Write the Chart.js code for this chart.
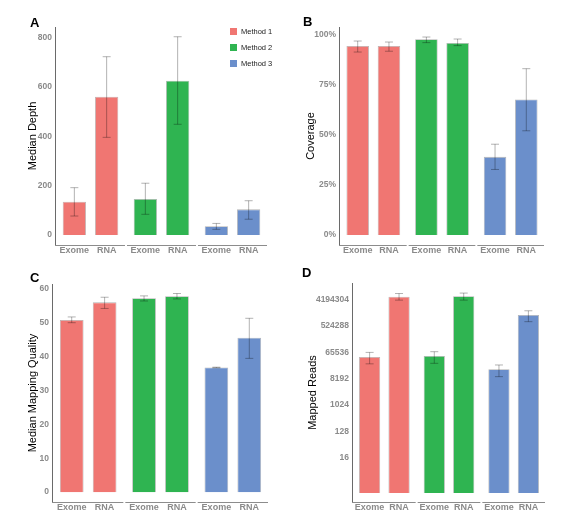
<!DOCTYPE html>
<html>
<head>
<meta charset="utf-8">
<script src="https://cdn.jsdelivr.net/npm/chart.js@4"></script>
<style>
  body { margin: 0; background: #fff; width: 576px; height: 519px; position: relative; overflow: hidden; font-family: "Liberation Sans", Arial, sans-serif; }
  .panel { position: absolute; }
  .letter { position: absolute; font-weight: bold; font-size: 13px; color: #000; }
  .legend { position: absolute; left: 230px; top: 24px; font-size: 7.5px; color: #222; }
  .legend div { height: 15.7px; display: flex; align-items: center; }
  .legend span { display: inline-block; width: 7px; height: 7px; margin-right: 4px; }
</style>
</head>
<body>
<div class="panel" style="left:0;top:0"><canvas id="chartA" width="288" height="259"></canvas></div>
<div class="panel" style="left:288px;top:0"><canvas id="chartB" width="288" height="259"></canvas></div>
<div class="panel" style="left:0;top:259px"><canvas id="chartC" width="288" height="260"></canvas></div>
<div class="panel" style="left:288px;top:259px"><canvas id="chartD" width="288" height="260"></canvas></div>
<div class="letter" style="left:30px;top:15px">A</div>
<div class="letter" style="left:303px;top:14px">B</div>
<div class="letter" style="left:30px;top:270px">C</div>
<div class="letter" style="left:302px;top:265px">D</div>
<div class="legend" id="legend"></div>
<script>
const methods = ['Method 1', 'Method 2', 'Method 3']
const colors = ['#F07672', '#2FB451', '#6B8FCB']

// A: median depth
const depthExome = [135, 146, 36]
const depthRna = [561, 626, 104]
const depthExomeErr = [[77, 192], [84, 210], [23, 47]]
const depthRnaErr = [[396, 723], [449, 804], [64, 139]]
const depthTicks = [0, 200, 400, 600, 800]

// B: coverage (%)
const covExome = [94.3, 97.7, 39]
const covRna = [94.3, 95.8, 67.6]
const covExomeErr = [[91.3, 96.8], [96, 98.8], [32.7, 45.3]]
const covRnaErr = [[91.7, 96.3], [94.5, 97.8], [52, 83]]
const covTicks = [0, 25, 50, 75, 100]

// C: median mapping quality
const mapqExome = [50.7, 57.1, 36.7]
const mapqRna = [55.9, 57.7, 45.5]
const mapqExomeErr = [[49.9, 51.6], [56.3, 57.8], [36.6, 36.8]]
const mapqRnaErr = [[54.1, 57.4], [56.9, 58.5], [39.4, 51.2]]
const mapqTicks = [0, 10, 20, 30, 40, 50, 60]

// D: mapped reads
const readsExome = [45700, 49700, 17300]
const readsRna = [5280000, 5540000, 1250000]
const readsExomeErr = [[26600, 65536], [27700, 69300], [9670, 24300]]
const readsRnaErr = [[4050000, 6820000], [4050000, 7060000], [741000, 1750000]]
const readsTicks = [16, 128, 1024, 8192, 65536, 524288, 4194304]

const legend = document.getElementById('legend')
methods.forEach((m, i) => {
    legend.innerHTML += '<div><span style="background:' + colors[i] + '"></span>' + m + '</div>'
})

const errorBars = {
    id: 'errorBars',
    afterDatasetsDraw(chart) {
        const ctx = chart.ctx
        const x = chart.scales.x
        const y = chart.scales.y
        const area = chart.chartArea
        const w = x.width / methods.length
        ctx.save()
        // one axis line per method group
        ctx.strokeStyle = '#8c8c8c'
        ctx.lineWidth = 1
        methods.forEach((m, i) => {
            const c = x.getPixelForValue(i)
            ctx.beginPath()
            ctx.moveTo(c - w / 2 + (i ? 1 : 0), area.bottom + 0.5)
            ctx.lineTo(c + w / 2 - 1, area.bottom + 0.5)
            ctx.stroke()
        })
        chart.data.datasets.forEach((ds, di) => {
            const meta = chart.getDatasetMeta(di)
            meta.data.forEach((bar, i) => {
                const lo = y.getPixelForValue(ds.errors[i][0])
                const hi = y.getPixelForValue(ds.errors[i][1])
                ctx.strokeStyle = 'rgba(0,0,0,0.3)'
                ctx.lineWidth = 1
                ctx.beginPath()
                ctx.moveTo(bar.x, lo)
                ctx.lineTo(bar.x, hi)
                ctx.moveTo(bar.x - 4, lo)
                ctx.lineTo(bar.x + 4, lo)
                ctx.moveTo(bar.x - 4, hi)
                ctx.lineTo(bar.x + 4, hi)
                ctx.stroke()
                ctx.fillStyle = '#8a8a8a'
                ctx.font = 'bold 9px "Liberation Sans", Arial, sans-serif'
                ctx.textAlign = 'center'
                ctx.textBaseline = 'middle'
                ctx.fillText(ds.label, bar.x, area.bottom + 5.5)
            })
        })
        ctx.restore()
    }
}

function makeChart(id, cfg) {
    const ctx = document.getElementById(id)
    const datasets = [
        { label: 'Exome', data: cfg.exome, errors: cfg.exomeErr },
        { label: 'RNA', data: cfg.rna, errors: cfg.rnaErr }
    ].map(d => Object.assign(d, {
        backgroundColor: colors,
        borderColor: 'rgba(0,0,0,0.3)',
        borderWidth: 0.8,
        categoryPercentage: 0.91,
        barPercentage: 0.72,
        base: cfg.base
    }))
    return new Chart(ctx, {
        type: 'bar',
        data: { labels: methods, datasets: datasets },
        plugins: [errorBars],
        options: {
            responsive: false,
            animation: false,
            layout: { padding: cfg.padding },
            plugins: { legend: { display: false }, tooltip: { enabled: false } },
            scales: {
                x: {
                    ticks: { display: false },
                    grid: { display: false, drawTicks: false },
                    border: { display: false },
                    afterFit: s => { s.height = 0 }
                },
                y: {
                    type: cfg.type || 'linear',
                    min: cfg.min,
                    max: cfg.max,
                    grid: { display: false, drawTicks: false },
                    border: { display: true, color: '#6a6a6a', width: 1 },
                    afterBuildTicks: s => { s.ticks = cfg.ticks.map(v => ({ value: v })) },
                    afterFit: s => { s.width = cfg.axisX },
                    ticks: {
                        padding: 3,
                        color: '#8a8a8a',
                        font: { family: '"Liberation Sans", Arial, sans-serif', size: 8.5, weight: 'bold' },
                        callback: cfg.fmt || (v => String(v))
                    },
                    title: {
                        display: true,
                        text: cfg.title,
                        color: '#000',
                        font: { family: '"Liberation Sans", Arial, sans-serif', size: 11 },
                        padding: { top: cfg.titlePad, bottom: 0 }
                    }
                }
            }
        }
    })
}

makeChart('chartA', {
    exome: depthExome, rna: depthRna, exomeErr: depthExomeErr, rnaErr: depthRnaErr,
    ticks: depthTicks, min: -40.5, max: 843.5, title: 'Median Depth',
    axisX: 55, titlePad: 26, padding: { top: 27, right: 20, bottom: 14, left: 0 }
})

makeChart('chartB', {
    exome: covExome, rna: covRna, exomeErr: covExomeErr, rnaErr: covRnaErr,
    ticks: covTicks, min: -5, max: 103.8, title: 'Coverage', fmt: v => v + '%',
    axisX: 51, titlePad: 16, padding: { top: 27, right: 31, bottom: 14, left: 0 }
})

makeChart('chartC', {
    exome: mapqExome, rna: mapqRna, exomeErr: mapqExomeErr, rnaErr: mapqRnaErr,
    ticks: mapqTicks, min: -2.9, max: 61.3, title: 'Median Mapping Quality',
    axisX: 52, titlePad: 26, padding: { top: 25, right: 19, bottom: 17, left: 0 }
})

makeChart('chartD', {
    exome: readsExome, rna: readsRna, exomeErr: readsExomeErr, rnaErr: readsRnaErr,
    ticks: readsTicks, type: 'logarithmic', min: 0.49, max: Math.pow(2, 23.9), base: 1,
    title: 'Mapped Reads',
    axisX: 64, titlePad: 18, padding: { top: 24, right: 30, bottom: 17, left: 0 }
})
</script>
</body>
</html>
